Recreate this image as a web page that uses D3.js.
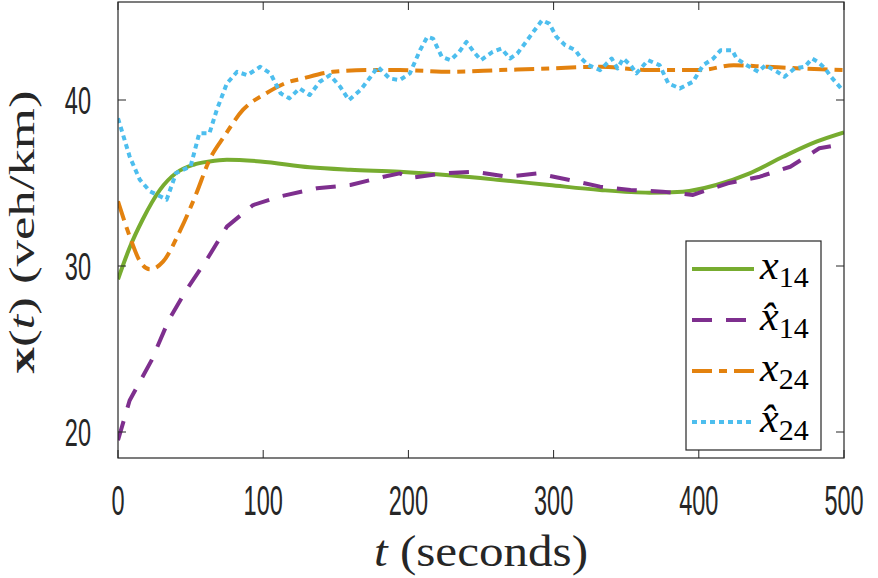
<!DOCTYPE html>
<html>
<head>
<meta charset="utf-8">
<script src="https://cdn.jsdelivr.net/npm/d3@7"></script>
<style>
  body { margin: 0; background: #fff; }
  svg { display: block; }
</style>
</head>
<body>
<div id="chart"></div>
<script>
// values
const tGreen = [0, 8, 17, 29, 40, 52, 63, 75, 98, 132, 160, 194, 230, 263, 297, 332, 366, 389, 412, 435, 458, 481, 500];
const x14 = [29.2, 31.1, 32.8, 34.6, 35.6, 36.1, 36.3, 36.4, 36.3, 35.95, 35.8, 35.68, 35.45, 35.18, 34.88, 34.58, 34.42, 34.48, 34.88, 35.58, 36.58, 37.49, 38.05];

const tPurple = [0, 8, 23, 35, 47, 61, 75, 93, 112, 137, 160, 183, 194, 201, 224, 246, 268, 289, 311, 332, 353, 375, 396, 399, 420, 442, 463, 483, 496];
const x14hat = [19.5, 21.9, 24.3, 26.75, 28.55, 30.36, 32.37, 33.67, 34.2, 34.68, 34.88, 35.38, 35.58, 35.3, 35.58, 35.68, 35.38, 35.58, 35.18, 34.78, 34.58, 34.48, 34.28, 34.38, 34.98, 35.38, 35.98, 37.09, 37.3];

const tOrange = [0, 8, 15, 22, 31, 43, 54, 63, 73, 86, 102, 118, 125, 148, 171, 194, 229, 263, 297, 332, 366, 401, 424, 447, 470, 500];
const x24 = [33.9, 31.8, 30.3, 29.8, 30.26, 32.17, 34.38, 36.39, 37.79, 39.4, 40.4, 41.1, 41.25, 41.7, 41.8, 41.8, 41.7, 41.8, 41.9, 42.0, 41.8, 41.8, 42.1, 42.0, 41.9, 41.8];

const tBlue = [0, 8, 15, 22, 29, 33.5, 40, 50, 56, 63, 68, 75, 82, 89, 98, 105, 112, 118, 125, 132, 139, 146, 153, 159, 167, 174, 179, 187, 194,
  201, 208, 213, 217, 223, 229, 235, 240, 245, 250, 258, 264, 270, 275, 281, 286, 292, 297, 302, 308, 315, 319, 324, 332, 340, 344, 348, 353, 357, 365, 373,
  379, 387, 396, 403, 410, 415, 423, 426, 433, 441, 446, 454, 459, 466, 473, 478, 482, 487, 491, 498, 500];
const x24hat = [38.9, 36.6, 35.2, 34.5, 34.2, 34.0, 35.6, 36.0, 38.0, 38.0, 39.4, 41.0, 41.7, 41.5, 42.0, 41.6, 40.4, 40.1, 40.7, 40.3, 41.1, 41.5, 40.8, 40.0, 40.6, 41.4, 42.0, 41.3, 41.2,
  41.6, 43.0, 43.8, 43.7, 42.6, 42.4, 42.9, 43.5, 42.9, 42.4, 42.9, 43.1, 42.5, 42.8, 43.5, 44.1, 44.8, 44.6, 43.8, 43.3, 43.0, 42.5, 42.1, 41.8, 42.5, 41.9, 42.5, 42.1, 41.6, 42.4, 42.1,
  41.0, 40.7, 41.1, 42.1, 42.5, 43.0, 43.0, 42.5, 42.1, 41.7, 42.1, 41.7, 41.4, 41.9, 42.0, 42.5, 42.3, 41.9, 41.4, 40.7, 40.6];

const xTicks = [0, 100, 200, 300, 400, 500];
const yTicks = [20, 30, 40];

const series = [
  { name: "14", hat: false, t: tGreen, v: x14, color: "#77AC30", dash: null, curve: d3.curveMonotoneX },
  { name: "14", hat: true, t: tPurple, v: x14hat, color: "#7E2F8E", dash: "20,14", curve: d3.curveLinear },
  { name: "24", hat: false, t: tOrange, v: x24, color: "#E3820F", dash: "20,7,8,7", curve: d3.curveMonotoneX },
  { name: "24", hat: true, t: tBlue, v: x24hat, color: "#4DBEEE", dash: "5,4", curve: d3.curveLinear }
];

const W = 878, H = 578;
const mLeft = 118, mRight = 844, mTop = 2, mBottom = 458;
const ink = "#262626";

const x = d3.scaleLinear().domain([0, 500]).range([mLeft, mRight]);
const y = d3.scaleLinear().domain([20, 40]).range([432, 100]);

const svg = d3.select("#chart").append("svg")
  .attr("width", W).attr("height", H);

// clip to axes box
svg.append("clipPath").attr("id", "clip")
  .append("rect").attr("x", mLeft).attr("y", mTop).attr("width", mRight - mLeft).attr("height", mBottom - mTop);

const lines = svg.append("g").attr("clip-path", "url(#clip)");
series.forEach(s => {
  const pts = s.t.map((t, i) => [t, s.v[i]]);
  const line = d3.line().x(d => x(d[0])).y(d => y(d[1])).curve(s.curve);
  lines.append("path")
    .attr("d", line(pts))
    .attr("fill", "none")
    .attr("stroke", s.color)
    .attr("stroke-width", 4)
    .attr("stroke-dasharray", s.dash)
    .attr("stroke-linejoin", "round");
});

// box and inward ticks
const tl = 8;
svg.append("rect")
  .attr("x", mLeft).attr("y", mTop).attr("width", mRight - mLeft).attr("height", mBottom - mTop)
  .attr("fill", "none").attr("stroke", ink).attr("stroke-width", 1.2);

// tick labels are tall and narrow in the reference: squeeze them horizontally
xTicks.forEach(t => {
  svg.append("line").attr("x1", x(t)).attr("x2", x(t)).attr("y1", mBottom).attr("y2", mBottom - tl).attr("stroke", ink);
  svg.append("line").attr("x1", x(t)).attr("x2", x(t)).attr("y1", mTop).attr("y2", mTop + tl).attr("stroke", ink);
  svg.append("text")
    .attr("transform", "translate(" + x(t) + ",515) scale(0.56,1)")
    .attr("text-anchor", "middle")
    .attr("font-family", "Liberation Sans, Arial, sans-serif")
    .attr("font-size", 42)
    .attr("fill", ink)
    .text(t);
});

yTicks.forEach(v => {
  svg.append("line").attr("x1", mLeft).attr("x2", mLeft + tl).attr("y1", y(v)).attr("y2", y(v)).attr("stroke", ink);
  svg.append("line").attr("x1", mRight).attr("x2", mRight - tl).attr("y1", y(v)).attr("y2", y(v)).attr("stroke", ink);
  svg.append("text")
    .attr("transform", "translate(91," + (y(v) + 14) + ") scale(0.62,1)")
    .attr("text-anchor", "end")
    .attr("font-family", "Liberation Sans, Arial, sans-serif")
    .attr("font-size", 38)
    .attr("fill", ink)
    .text(v);
});

// axis labels
const xl = svg.append("text")
  .attr("x", (mLeft + mRight) / 2).attr("y", 566)
  .attr("text-anchor", "middle")
  .attr("font-family", "Liberation Serif, DejaVu Serif, serif")
  .attr("font-size", 44)
  .attr("textLength", 214)
  .attr("lengthAdjust", "spacingAndGlyphs")
  .attr("fill", ink);
xl.append("tspan").attr("font-style", "italic").text("t");
xl.append("tspan").text(" (seconds)");

const yl = svg.append("text")
  .attr("transform", "translate(34,232) rotate(-90)")
  .attr("text-anchor", "middle")
  .attr("font-family", "Liberation Serif, DejaVu Serif, serif")
  .attr("font-size", 35)
  .attr("textLength", 283)
  .attr("lengthAdjust", "spacingAndGlyphs")
  .attr("fill", ink);
yl.append("tspan").attr("font-weight", "bold").text("x");
yl.append("tspan").text("(");
yl.append("tspan").attr("font-style", "italic").text("t");
yl.append("tspan").text(")  (veh/km)");

// legend
const lg = svg.append("g");
lg.append("rect")
  .attr("x", 686).attr("y", 241).attr("width", 135).attr("height", 209)
  .attr("fill", "#fff").attr("stroke", ink).attr("stroke-width", 1.2);

const rowY = [269, 320, 371, 422];
series.forEach((s, i) => {
  lg.append("line")
    .attr("x1", 692).attr("x2", 754)
    .attr("y1", rowY[i]).attr("y2", rowY[i])
    .attr("stroke", s.color).attr("stroke-width", 4)
    .attr("stroke-dasharray", s.dash);
  const tx = lg.append("text")
    .attr("x", 760).attr("y", rowY[i] + 10)
    .attr("font-family", "Liberation Serif, DejaVu Serif, serif")
    .attr("fill", "#000");
  tx.append("tspan").attr("font-style", "italic").attr("font-size", 42)
    .text(s.hat ? "x\u0302" : "x");
  tx.append("tspan").attr("font-size", 30).attr("dy", 8).text(s.name);
});
</script>
</body>
</html>
